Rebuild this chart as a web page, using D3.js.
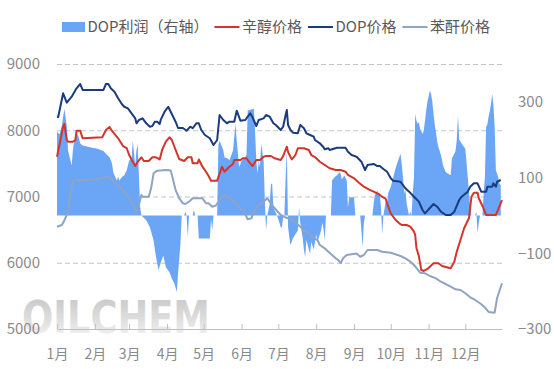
<!DOCTYPE html>
<html><head><meta charset="utf-8">
<script src="https://cdn.jsdelivr.net/npm/d3@7"></script>
<style>
body{margin:0;background:#fff}
svg{display:block}
text{font-family:"Noto Sans CJK SC","Noto Sans",sans-serif}
</style>
</head><body>
<svg id="c" width="554" height="369"></svg>
<script>
// ---------- data ----------
const monthLabels = ["1月","2月","3月","4月","5月","6月","7月","8月","9月","10月","11月","12月"];
const leftTicks = [5000,6000,7000,8000,9000];
const rightTicks = [300,100,-100,-300];
const seriesNames = ["DOP利润（右轴）","辛醇价格","DOP价格","苯酐价格"];

const profitDates = ["01-01","01-03","01-05","01-07","01-09","01-10","01-13","01-14","01-15","01-18","01-20","01-22","01-28","02-03","02-08","02-10","02-13","02-15","02-16","02-19","02-20","02-21","02-23","02-25","02-27","03-01","03-03","03-04","03-06","03-07","03-08","03-09","03-10","03-11","03-15","03-18","03-21","03-23","03-25","03-27","03-29","03-31","04-03","04-05","04-07","04-09","04-10","04-12","04-13","04-15","04-16","04-17","04-18","04-19","04-22","04-23","04-24","04-26","04-27","05-06","05-07","05-08","05-09","05-12","05-13","05-14","05-17","05-18","05-21","05-22","05-25","05-27","05-28","05-30","06-01","06-04","06-05","06-06","06-11","06-12","06-13","06-14","06-15","06-16","06-17","06-19","06-20","06-21","06-22","06-24","06-25","06-26","06-27","06-30","07-02","07-03","07-04","07-05","07-06","07-07","07-08","07-09","07-10","07-11","07-13","07-15","07-17","07-18","07-19","07-21","07-22","07-23","07-24","07-26","07-27","07-28","07-30","08-01","08-02","08-03","08-05","08-06","08-07","08-08","08-09","08-13","08-14","08-16","08-18","08-20","08-21","08-22","08-24","08-26","08-27","08-28","09-01","09-02","09-06","09-07","09-08","09-09","09-10","09-16","09-17","09-18","09-20","09-21","09-22","09-23","09-24","09-25","09-26","09-27","09-28","09-29","10-01","10-03","10-05","10-07","10-09","10-10","10-11","10-12","10-13","10-14","10-16","10-17","10-18","10-19","10-20","10-21","10-22","10-23","10-24","10-25","10-27","10-28","10-29","10-30","10-31","11-01","11-02","11-03","11-04","11-05","11-06","11-07","11-08","11-09","11-11","11-13","11-15","11-17","11-19","11-20","11-22","11-23","11-24","11-25","11-26","11-27","11-29","12-01","12-02","12-03","12-04","12-05","12-06","12-09","12-10","12-11","12-12","12-13","12-15","12-16","12-17","12-18","12-19","12-20","12-21","12-22","12-23","12-24","12-25","12-26","12-27","12-28","12-29","12-30"];
const profitValues = [222,214,237,282,237,172,132,172,195,216,190,185,180,176,170,163,154,137,114,92,103,92,101,106,119,145,150,198,132,172,189,106,22,0,-13,-31,-66,-110,-145,-123,-106,-136,-150,-167,-180,-202,-154,-75,0,0,10,0,-57,0,0,15,0,0,-61,-61,-10,-40,0,0,185,198,172,154,150,145,172,242,198,127,145,154,160,277,282,224,145,110,145,127,189,145,40,-40,0,30,84,84,20,0,-20,-31,-31,-5,0,100,172,-30,-57,-79,-60,-50,-40,22,-20,-60,-92,-110,-65,-90,-101,-70,-90,-50,-70,-60,-40,-20,-35,-66,0,0,92,101,106,114,110,95,106,92,20,48,48,0,0,-40,-84,-20,0,0,30,53,66,55,60,20,-50,0,20,40,30,60,75,100,125,145,163,135,100,57,70,31,0,10,0,60,101,268,250,242,246,229,215,225,250,277,300,315,330,320,300,268,240,220,195,180,160,130,114,110,106,150,163,170,200,264,200,195,185,176,140,100,60,20,0,0,10,-48,-20,0,0,60,101,233,240,260,275,295,321,290,233,119,110,100,84,80];

const octanolDates = ["01-01","01-03","01-06","01-07","01-09","01-10","01-14","01-16","01-17","01-20","01-22","02-07","02-10","02-13","02-15","02-20","02-24","02-27","03-01","03-04","03-06","03-08","03-11","03-13","03-17","03-20","03-23","03-26","03-28","03-31","04-03","04-05","04-08","04-11","04-15","04-18","04-21","04-22","04-26","04-27","04-30","05-03","05-05","05-07","05-12","05-16","05-18","05-22","05-25","05-26","05-31","06-02","06-05","06-08","06-10","06-13","06-16","06-19","06-21","06-25","06-28","07-03","07-05","07-08","07-09","07-12","07-15","07-17","07-22","07-26","07-28","07-31","08-04","08-08","08-12","08-17","08-21","08-25","08-27","09-01","09-05","09-09","09-13","09-17","09-21","09-24","09-27","09-28","10-01","10-05","10-08","10-10","10-14","10-17","10-20","10-21","10-22","10-24","10-26","10-28","10-31","11-02","11-05","11-09","11-12","11-15","11-19","11-22","11-24","11-27","11-30","12-04","12-06","12-08","12-11","12-12","12-15","12-18","12-26","12-31"];
const octanolValues = [7601,7777,8054,8094,7853,7827,7827,7853,7993,7993,7878,7893,8004,8049,7989,7878,7762,7732,7626,7525,7460,7521,7592,7536,7536,7592,7592,7559,7702,7827,7894,7853,7702,7566,7536,7592,7592,7501,7501,7559,7450,7370,7310,7239,7239,7450,7374,7450,7491,7551,7551,7577,7577,7501,7460,7551,7551,7601,7611,7611,7577,7551,7611,7752,7672,7561,7626,7728,7728,7702,7626,7596,7525,7475,7426,7400,7400,7374,7325,7275,7208,7148,7109,7073,7038,6997,6962,6897,6746,6645,6595,6570,6570,6544,6470,6419,6223,6100,5891,5876,5906,5940,5992,5992,5951,5936,5916,6016,6167,6343,6520,6675,6997,7057,7057,6973,6857,6721,6721,6947];

const dopDates = ["01-01","01-02","01-06","01-09","01-13","01-17","01-20","01-22","02-08","02-10","02-12","02-14","02-17","02-20","02-23","02-25","02-28","03-03","03-06","03-07","03-09","03-12","03-15","03-18","03-20","03-22","03-24","03-26","03-27","03-30","04-02","04-04","04-08","04-10","04-14","04-17","04-20","04-22","04-25","04-27","04-29","05-02","05-06","05-09","05-12","05-14","05-17","05-20","05-22","05-26","05-28","05-31","06-04","06-08","06-10","06-13","06-15","06-19","06-21","06-24","06-27","06-29","07-03","07-05","07-07","07-08","07-09","07-11","07-13","07-17","07-19","07-22","07-24","07-27","07-30","07-31","08-04","08-07","08-08","08-11","08-12","08-18","08-25","08-27","08-30","09-03","09-07","09-10","09-12","09-17","09-20","09-22","09-25","09-28","10-01","10-03","10-09","10-13","10-16","10-20","10-24","10-27","10-29","11-02","11-05","11-08","11-11","11-15","11-19","11-22","11-26","11-28","12-03","12-05","12-08","12-11","12-14","12-18","12-19","12-23","12-24","12-26","12-27","12-30"];
const dopValues = [8205,8200,8558,8416,8506,8633,8698,8608,8608,8698,8698,8633,8582,8482,8396,8355,8331,8256,8180,8105,8155,8180,8105,8054,8064,8129,8129,8094,8165,8280,8355,8280,8129,8034,8034,7993,8054,8030,8105,8105,8004,7928,7879,7777,7853,8230,8155,8105,8129,8129,8295,8144,8155,8256,8195,8064,8155,8180,8230,8205,8105,8079,8004,8054,8230,8306,8079,8004,7963,7954,8079,8030,7954,7928,7903,7853,7803,7743,7712,7728,7702,7737,7737,7676,7626,7601,7525,7400,7475,7491,7460,7460,7415,7374,7275,7239,7223,7124,7073,6997,6922,6796,6746,6826,6887,6846,6771,6721,6721,6771,6947,6997,7073,7148,7199,7199,7073,7073,7148,7148,7199,7148,7223,7249];

const paDates = ["01-01","01-05","01-07","01-10","01-12","01-14","01-20","01-28","02-07","02-11","02-14","02-17","02-20","02-23","02-25","02-28","03-03","03-05","03-07","03-09","03-11","03-12","03-17","03-19","03-21","03-24","03-31","04-04","04-05","04-08","04-11","04-14","04-16","04-19","04-22","04-30","05-03","05-05","05-08","05-11","05-15","05-18","05-22","05-26","05-30","06-03","06-06","06-09","06-11","06-14","06-17","06-19","06-22","06-25","06-28","07-03","07-06","07-09","07-13","07-16","07-19","07-22","07-26","07-28","08-02","08-04","08-08","08-11","08-14","08-17","08-19","08-21","08-23","08-26","09-03","09-06","09-09","09-12","09-20","09-24","10-01","10-09","10-13","10-17","10-20","10-23","10-25","10-29","11-02","11-07","11-11","11-15","11-19","11-23","11-27","12-01","12-05","12-09","12-13","12-17","12-20","12-25","12-27","12-31"];
const paValues = [6544,6570,6638,6766,7073,7239,7249,7249,7275,7299,7279,7223,7174,7124,7068,6997,6922,6846,6771,6872,7023,6997,6997,7128,7350,7390,7400,7392,7325,7098,6973,6897,6887,6922,6973,6973,6897,6897,6846,6864,6973,7023,6973,6922,6846,6771,6656,6671,6771,6846,6897,6922,6973,6897,6822,6721,6691,6671,6645,6595,6544,6484,6445,6393,6343,6268,6218,6167,6117,6067,6042,5992,6067,6117,6140,6091,6117,6193,6193,6167,6152,6102,6067,6016,5966,5901,5850,5841,5800,5765,5714,5679,5639,5599,5589,5539,5479,5438,5388,5328,5257,5246,5468,5690];

const colors = {profit:"#6ba5f6", octanol:"#d2352b", dop:"#1b3c7c", pa:"#8fa3c2"};

// ---------- chart ----------
const svg = d3.select("#c");
const L = 57, R = 502, T = 64, B = 329;
const parse = d3.timeParse("%Y-%m-%d");
const toDate = s => parse("2023-" + s);
const x = d3.scaleTime().domain([toDate("01-01"), toDate("12-31")]).range([L, R]);
const yL = d3.scaleLinear().domain([5000, 9000]).range([B, T]);
const yR = d3.scaleLinear().domain([-300, 400]).range([B, T]);

const zip = (ds, vs) => ds.map((d, i) => ({date: toDate(d), v: vs[i]}));
const profit = zip(profitDates, profitValues);
const octanol = zip(octanolDates, octanolValues);
const dop = zip(dopDates, dopValues);
const pa = zip(paDates, paValues);

// watermark
const defs = svg.append("defs");
const g1 = defs.append("linearGradient").attr("id","wm").attr("x1",0).attr("y1",0).attr("x2",0).attr("y2",1);
g1.append("stop").attr("offset","0%").attr("stop-color","#bdbdbd");
g1.append("stop").attr("offset","55%").attr("stop-color","#dcdcdc");
g1.append("stop").attr("offset","100%").attr("stop-color","#fafafa");
svg.append("text").attr("x",22).attr("y",333)
  .attr("textLength",188).attr("lengthAdjust","spacingAndGlyphs")
  .style("font-family","'DejaVu Sans','Liberation Sans',sans-serif")
  .style("font-weight","bold").style("font-size","45px")
  .attr("fill","url(#wm)").attr("opacity",0.9)
  .text("OILCHEM");

// gridlines
const grid = svg.append("g").attr("transform",`translate(${L},0)`)
  .call(d3.axisLeft(yL).tickValues([6000,7000,8000,9000]).tickSize(-(R-L)).tickFormat(""));
grid.select(".domain").remove();
grid.selectAll("line").attr("stroke","#c6c6c6").attr("stroke-dasharray","5,3").attr("stroke-width",1);

// profit area
svg.append("path").datum(profit)
  .attr("fill", colors.profit)
  .attr("d", d3.area().x(d => x(d.date)).y0(yR(0)).y1(d => yR(d.v)));

// lines
const line = sc => d3.line().x(d => x(d.date)).y(d => sc(d.v));
[[octanol,colors.octanol],[dop,colors.dop],[pa,colors.pa]].forEach(([data,c]) => {
  svg.append("path").datum(data).attr("fill","none").attr("stroke",c)
    .attr("stroke-width",2).attr("stroke-linejoin","round").attr("d", line(yL));
});

// x axis
const months = d3.timeMonth.range(toDate("01-01"), toDate("12-31"));
const xa = svg.append("g").attr("transform",`translate(0,${B})`)
  .call(d3.axisBottom(x).tickValues(months).tickSizeInner(-5).tickSizeOuter(0)
    .tickPadding(20).tickFormat((d,i) => monthLabels[i]));
xa.select(".domain").attr("stroke","#bfbfbf");
xa.selectAll(".tick line").attr("stroke","#bfbfbf");
xa.selectAll("text").attr("fill","#8a8a8a").style("font-size","14px")
  .style("font-family","'Noto Sans CJK SC',sans-serif");

// left axis
const la = svg.append("g").attr("transform",`translate(${L},0)`)
  .call(d3.axisLeft(yL).tickValues(leftTicks).tickSize(0).tickPadding(17).tickFormat(d3.format("d")));
la.select(".domain").remove();
la.selectAll("text").attr("fill","#8a8a8a").style("font-size","15px")
  .style("font-family","'Noto Sans CJK SC',sans-serif");

// right axis
const ra = svg.append("g").attr("transform",`translate(${R},0)`)
  .call(d3.axisRight(yR).tickValues(rightTicks).tickSize(0).tickPadding(16).tickFormat(d3.format("d")));
ra.select(".domain").remove();
ra.selectAll("text").attr("fill","#8a8a8a").style("font-size","15px")
  .style("font-family","'Noto Sans CJK SC',sans-serif");

// legend
const leg = svg.append("g").style("font-size","15px").style("font-family","'Noto Sans CJK SC',sans-serif");
let lx = 62; const ly = 27;
const legendColors = [colors.profit, colors.octanol, colors.dop, colors.pa];
seriesNames.forEach((name, i) => {
  if (i === 0) {
    leg.append("rect").attr("x",lx).attr("y",ly-5).attr("width",23).attr("height",10).attr("fill",legendColors[i]);
  } else {
    leg.append("line").attr("x1",lx).attr("x2",lx+25).attr("y1",ly).attr("y2",ly)
      .attr("stroke",legendColors[i]).attr("stroke-width",2);
  }
  lx += (i === 0 ? 25.5 : 27.5);
  const t = leg.append("text").attr("x",lx).attr("y",ly).attr("dy","0.35em").attr("fill","#595959").text(name);
  lx += t.node().getComputedTextLength() + 6;
});
</script>
</body></html>
